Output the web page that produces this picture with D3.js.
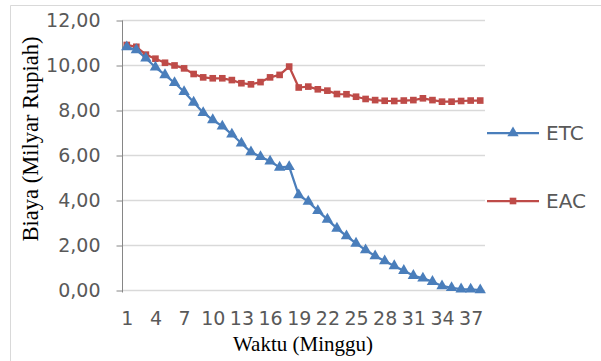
<!DOCTYPE html>
<html lang="id"><head><meta charset="utf-8">
<title>ETC EAC</title>
<script type="text/javascript" src="https://cdn.jsdelivr.net/npm/d3@7"></script>
<style>
  body { margin: 0; background: #fff; }
</style>
</head>
<body>
<script type="text/javascript">
// data (Milyar Rupiah per minggu)
var weeks = d3.range(1, 39);
var etc = [10.80, 10.67, 10.30, 9.90, 9.56, 9.21, 8.81, 8.34, 7.88, 7.56,
           7.28, 6.92, 6.52, 6.13, 5.92, 5.72, 5.45, 5.48, 4.22, 3.93,
           3.52, 3.14, 2.74, 2.40, 2.07, 1.78, 1.51, 1.29, 1.07, 0.86,
           0.64, 0.52, 0.37, 0.18, 0.10, 0.04, 0.03, 0.00];
var eac = [10.89, 10.81, 10.46, 10.28, 10.10, 9.98, 9.85, 9.60, 9.45, 9.41,
           9.41, 9.33, 9.19, 9.14, 9.24, 9.45, 9.56, 9.93, 9.00, 9.04,
           8.92, 8.86, 8.71, 8.70, 8.59, 8.49, 8.44, 8.41, 8.40, 8.42,
           8.44, 8.52, 8.44, 8.37, 8.37, 8.40, 8.42, 8.42];
var yTicks = [0, 2, 4, 6, 8, 10, 12];
var xTickWeeks = [1, 4, 7, 10, 13, 16, 19, 22, 25, 28, 31, 34, 37];

var width = 601, height = 361;
// plot box (note: "top" is reserved on window, so prefix everything)
var plotLeft = 122, plotRight = 485, plotTop = 20, plotBottom = 290;
var sans = "'DejaVu Sans', sans-serif";
var serif = "'Liberation Serif', 'Times New Roman', serif";
var blue = "#4a7ebb", red = "#be4b48";

var svg = d3.select("body").append("svg")
            .attr("width", width)
            .attr("height", height);

// chart border (only left and top fall inside the crop)
svg.append("path")
   .attr("d", "M10.5,361V5.5H601")
   .attr("fill", "none")
   .attr("stroke", "#d9d9d9");

var x = d3.scalePoint().domain(weeks).range([plotLeft, plotRight]).padding(0.5);
var y = d3.scaleLinear().domain([0, 12]).range([plotBottom, plotTop]);

// gridlines
svg.append("g")
   .selectAll("line")
   .data(yTicks.slice(1))
   .enter()
   .append("line")
   .attr("x1", plotLeft).attr("x2", plotRight)
   .attr("y1", function(d){ return Math.round(y(d)) + 0.5; })
   .attr("y2", function(d){ return Math.round(y(d)) + 0.5; })
   .attr("stroke", "#d9d9d9")
   .attr("stroke-width", 1.5);

// x axis line
svg.append("line")
   .attr("x1", plotLeft).attr("x2", plotRight)
   .attr("y1", plotBottom + 0.5).attr("y2", plotBottom + 0.5)
   .attr("stroke", "#d9d9d9")
   .attr("stroke-width", 1.5);

var yAxis = d3.axisLeft(y)
              .tickValues(yTicks)
              .tickSize(6)
              .tickPadding(16)
              .tickFormat(function(d){ return d3.format(".2f")(d).replace(".", ","); });

var gy = svg.append("g")
   .attr("transform", "translate(" + (plotLeft + 0.5) + ",0.5)")
   .call(yAxis);
gy.select(".domain").attr("stroke", "#868686").attr("d", "M0," + plotTop + "V" + (plotBottom + 2));
gy.selectAll(".tick line").attr("stroke", "#868686");
gy.selectAll("text")
  .attr("fill", "#595959")
  .attr("font-family", sans)
  .attr("font-size", 19);

var xAxis = d3.axisBottom(x)
              .tickValues(xTickWeeks)
              .tickSize(0)
              .tickPadding(22);

var gx = svg.append("g")
   .attr("transform", "translate(0," + plotBottom + ")")
   .call(xAxis);
gx.select(".domain").remove();
gx.selectAll("text")
  .attr("fill", "#595959")
  .attr("font-family", sans)
  .attr("font-size", 19);

// axis titles
svg.append("text")
   .attr("text-anchor", "middle")
   .attr("x", 303)
   .attr("y", 351)
   .attr("font-family", serif)
   .attr("font-size", 21)
   .attr("fill", "#000")
   .text("Waktu (Minggu)");

svg.append("text")
   .attr("text-anchor", "middle")
   .attr("transform", "translate(38,139) rotate(-90)")
   .attr("font-family", serif)
   .attr("font-size", 22.5)
   .attr("fill", "#000")
   .text("Biaya (Milyar Rupiah)");

var line = d3.line()
             .x(function(d, i){ return x(weeks[i]); })
             .y(function(d){ return y(d); });

var triangle = d3.symbol().type(d3.symbolTriangle).size(56);
var square = d3.symbol().type(d3.symbolSquare).size(44);

function drawSeries(values, color, sym){
  svg.append("path")
     .datum(values)
     .attr("fill", "none")
     .attr("stroke", color)
     .attr("stroke-width", 2.25)
     .attr("stroke-linejoin", "round")
     .attr("d", line);
  svg.append("g")
     .selectAll("path")
     .data(values)
     .enter()
     .append("path")
     .attr("d", sym)
     .attr("fill", color)
     .attr("transform", function(d, i){ return "translate(" + x(weeks[i]) + "," + y(d) + ")"; });
}

drawSeries(eac, red, square);
drawSeries(etc, blue, triangle);

// legend
var legend = [
  {name: "ETC", color: blue, sym: triangle, y: 133},
  {name: "EAC", color: red, sym: square, y: 201}
];
var lg = svg.selectAll(".legend")
            .data(legend)
            .enter()
            .append("g")
            .attr("class", "legend")
            .attr("transform", function(d){ return "translate(487," + d.y + ")"; });
lg.append("line")
  .attr("x1", 0).attr("x2", 52)
  .attr("stroke", function(d){ return d.color; })
  .attr("stroke-width", 2.25);
lg.append("path")
  .attr("d", function(d){ return d.sym(); })
  .attr("fill", function(d){ return d.color; })
  .attr("transform", "translate(26,0)");
lg.append("text")
  .attr("x", 59)
  .attr("dy", "0.36em")
  .attr("fill", "#595959")
  .attr("font-family", sans)
  .attr("font-size", 20)
  .text(function(d){ return d.name; });
</script>
</body></html>
